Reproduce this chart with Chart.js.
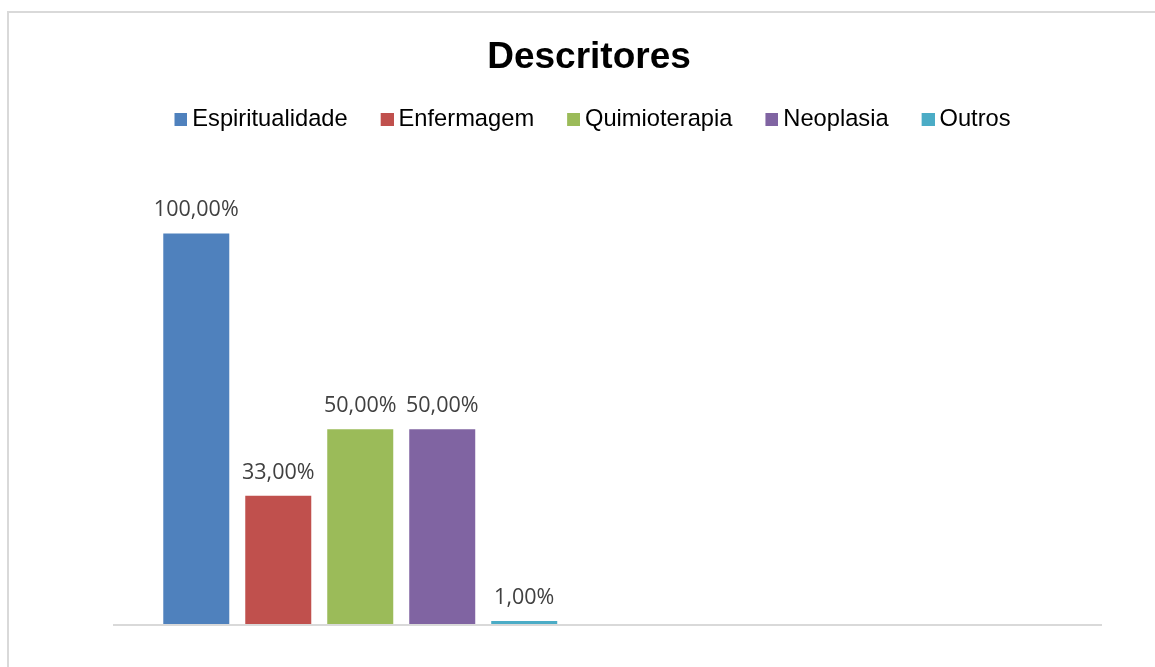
<!DOCTYPE html>
<html>
<head>
<meta charset="utf-8">
<title>Descritores</title>
<script src="https://cdn.jsdelivr.net/npm/chart.js@4"></script>
<style>
  body { margin: 0; background: #ffffff; overflow: hidden; }
  #frame { position: absolute; left: 7px; top: 11px; width: 1200px; height: 700px; border: 2px solid #d9d9d9; }
  #myChart { position: absolute; left: 0px; top: 0px; }
</style>
</head>
<body>
<div id="frame">
  <canvas id="myChart" width="1160" height="655"></canvas>
</div>
<script>
//chart data
var categories = ['', ''];
var seriesNames = ['Espiritualidade', 'Enfermagem', 'Quimioterapia', 'Neoplasia', 'Outros'];
var seriesValues = [100, 33, 50, 50, 1];
var seriesColors = ['#4f81bd', '#c0504d', '#9bbb59', '#8064a2', '#4bacc6'];

//one dataset per descriptor, all in the first category
var datasets = seriesNames.map(function (name, i) {
    return {
        label: name,
        data: [seriesValues[i], null],
        backgroundColor: seriesColors[i],
        categoryPercentage: 0.829,
        barPercentage: 0.805
    };
});

//small square swatch for the legend, sitting at the right of a wider image
function swatch(color) {
    var c = document.createElement('canvas');
    c.width = 27;
    c.height = 13;
    var g = c.getContext('2d');
    g.fillStyle = color;
    g.fillRect(14, 0, 13, 13);
    return c;
}

//value labels above the bars and the bottom axis line
var valueLabels = {
    id: 'valueLabels',
    afterDatasetsDraw: function (chart) {
        var ctx = chart.ctx;
        ctx.save();
        ctx.font = '21.5px "Open Sans"';
        ctx.fillStyle = '#404040';
        ctx.textAlign = 'center';
        ctx.textBaseline = 'alphabetic';
        chart.data.datasets.forEach(function (ds, i) {
            var meta = chart.getDatasetMeta(i);
            meta.data.forEach(function (bar, j) {
                var v = ds.data[j];
                if (v === null) return;
                ctx.fillText(v.toFixed(2).replace('.', ',') + '%', bar.x, bar.y - 17);
            });
        });
        //axis line
        var y0 = chart.scales.y.getPixelForValue(0);
        ctx.strokeStyle = '#d9d9d9';
        ctx.lineWidth = 2;
        ctx.beginPath();
        ctx.moveTo(chart.chartArea.left, y0);
        ctx.lineTo(chart.chartArea.right, y0);
        ctx.stroke();
        ctx.restore();
    }
};

var ctx = document.getElementById('myChart').getContext('2d');

var myChart = new Chart(ctx, {
    type: 'bar',
    data: {
        labels: categories,
        datasets: datasets
    },
    options: {
        responsive: false,
        animation: false,
        layout: {
            padding: { left: 0, right: 0, top: 0, bottom: 43 }
        },
        plugins: {
            title: {
                display: true,
                text: 'Descritores',
                color: '#000000',
                font: { family: '"Liberation Sans", Arial', size: 37, weight: 'bold' },
                padding: { top: 23, bottom: 1 }
            },
            //empty spacer below the legend
            subtitle: {
                display: true,
                text: '',
                weight: 500,
                font: { size: 10, lineHeight: 1 },
                padding: { top: 0, bottom: 4 }
            },
            legend: {
                display: true,
                position: 'top',
                labels: {
                    color: '#000000',
                    font: { family: '"Liberation Sans", Arial', size: 23.7 },
                    usePointStyle: true,
                    pointStyleWidth: 13,
                    boxHeight: 13,
                    padding: 26,
                    generateLabels: function (chart) {
                        var items = Chart.defaults.plugins.legend.labels.generateLabels(chart);
                        items.forEach(function (item, i) {
                            item.pointStyle = swatch(seriesColors[i]);
                        });
                        return items;
                    }
                }
            },
            tooltip: { enabled: false }
        },
        scales: {
            x: { display: false },
            //invisible axes that only set the plot's left and right margins
            y: {
                display: true,
                min: 0,
                max: 120,
                ticks: { display: false },
                grid: { display: false },
                border: { display: false },
                afterFit: function (s) { s.width = 104; }
            },
            y2: {
                display: true,
                position: 'right',
                ticks: { display: false },
                grid: { display: false },
                border: { display: false },
                afterFit: function (s) { s.width = 67; }
            }
        }
    },
    plugins: [valueLabels]
});
</script>
</body>
</html>
